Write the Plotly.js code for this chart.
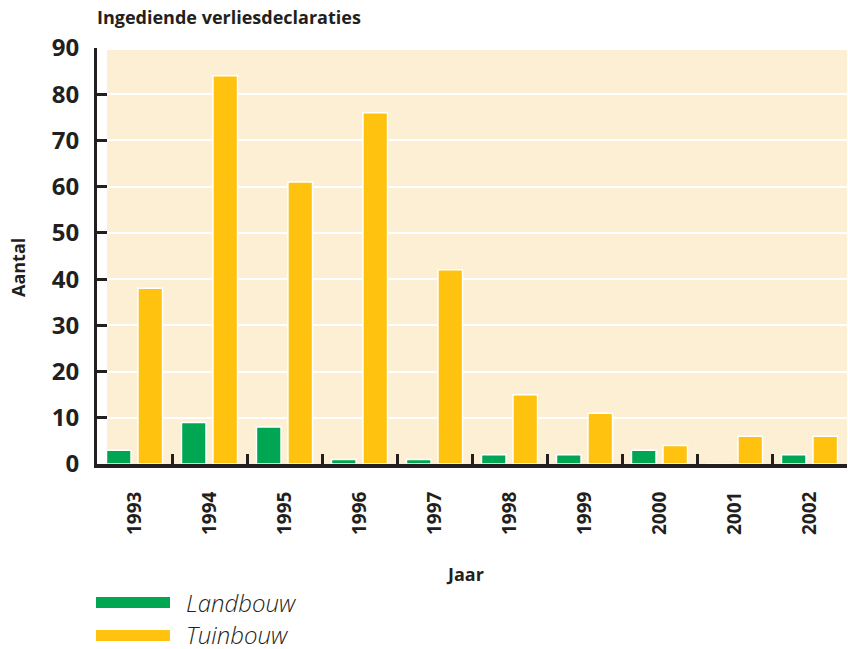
<!DOCTYPE html>
<html>
<head>
<meta charset="utf-8">
<script src="https://cdn.plot.ly/plotly-3.0.1.min.js"></script>
<style>html,body{margin:0;padding:0;background:#fff;}#chart{width:848px;height:649px;}</style>
</head>
<body>
<div id="chart"></div>
<script>
var years = ["1993","1994","1995","1996","1997","1998","1999","2000","2001","2002"];
var landbouw = [3, 9, 8, 1, 1, 2, 2, 3, 0, 2];
var tuinbouw = [38, 84, 61, 76, 42, 15, 11, 4, 6, 6];
var seriesNames = ["Landbouw", "Tuinbouw"];
var yTicks = [0, 10, 20, 30, 40, 50, 60, 70, 80, 90];

var GREEN = "#00A651", YELLOW = "#FFC20E", DARK = "#231F20", BG = "#FDEFD4";
var FONT = "Open Sans, Noto Sans, sans-serif";

// pixel helpers for plot area (left 97, right 847, top 48, bottom 464)
function px(x){ return (x - 97) / 750; }
function py(y){ return (464 - y) / 416; }

var traces = [
  {type: "bar", name: seriesNames[0], x: years, y: landbouw,
   marker: {color: GREEN, line: {color: "#ffffff", width: 1.5}}, showlegend: false},
  {type: "bar", name: seriesNames[1], x: years, y: tuinbouw,
   marker: {color: YELLOW, line: {color: "#ffffff", width: 1.5}}, showlegend: false}
];

var layout = {
  width: 848, height: 649,
  margin: {l: 97, r: 1, t: 48, b: 185},
  paper_bgcolor: "#ffffff",
  plot_bgcolor: "#ffffff",
  barmode: "group",
  bargap: 0.16,
  bargroupgap: 0.22,
  font: {family: FONT, color: DARK},
  xaxis: {
    type: "category",
    tickson: "boundaries",
    ticks: "inside", ticklen: 10, tickwidth: 3, tickcolor: DARK,
    showline: true, linewidth: 4, linecolor: DARK,
    layer: "below traces",
    showgrid: false, zeroline: false,
    tickangle: -90,
    tickfont: {family: FONT, size: 19, color: DARK, weight: "bold"},
    ticklabelstandoff: 16
  },
  yaxis: {
    range: [0, 90],
    tickvals: yTicks,
    ticks: "inside", ticklen: 10, tickwidth: 3, tickcolor: DARK,
    showline: true, linewidth: 3, linecolor: DARK,
    showgrid: true, gridcolor: "#ffffff", gridwidth: 2,
    zeroline: false,
    tickfont: {family: FONT, size: 24, color: DARK, weight: "bold"},
    ticklabelstandoff: 10
  },
  shapes: [
    {type: "rect", xref: "paper", yref: "paper", x0: px(107), x1: 1, y0: 0, y1: py(50),
     fillcolor: BG, line: {width: 0}, layer: "below"},
    {type: "rect", xref: "paper", yref: "paper", x0: px(96), x1: px(170), y0: py(608), y1: py(597),
     fillcolor: GREEN, line: {width: 0}},
    {type: "rect", xref: "paper", yref: "paper", x0: px(96), x1: px(170), y0: py(641), y1: py(630),
     fillcolor: YELLOW, line: {width: 0}}
  ],
  annotations: [
    {text: "Ingediende verliesdeclaraties", xref: "paper", yref: "paper",
     x: px(95), y: py(17), xanchor: "left", yanchor: "middle", showarrow: false,
     font: {family: FONT, size: 18, color: DARK, weight: "bold"}},
    {text: "Jaar", xref: "paper", yref: "paper",
     x: px(465), y: py(574), xanchor: "center", yanchor: "middle", showarrow: false,
     font: {family: FONT, size: 18, color: DARK, weight: "bold"}},
    {text: "Aantal", xref: "paper", yref: "paper", textangle: -90,
     x: px(18), y: py(268), xanchor: "center", yanchor: "middle", showarrow: false,
     font: {family: FONT, size: 18, color: DARK, weight: "bold"}},
    {text: "<i>" + seriesNames[0] + "</i>", xref: "paper", yref: "paper",
     x: px(185), y: py(602), xanchor: "left", yanchor: "middle", showarrow: false,
     height: 26, borderpad: 0,
     font: {family: FONT, size: 24, color: DARK, weight: 300}},
    {text: "<i>" + seriesNames[1] + "</i>", xref: "paper", yref: "paper",
     x: px(185), y: py(634), xanchor: "left", yanchor: "middle", showarrow: false,
     height: 26, borderpad: 0,
     font: {family: FONT, size: 24, color: DARK, weight: 300}}
  ]
};

Plotly.newPlot("chart", traces, layout, {displayModeBar: false, staticPlot: true});
</script>
</body>
</html>
